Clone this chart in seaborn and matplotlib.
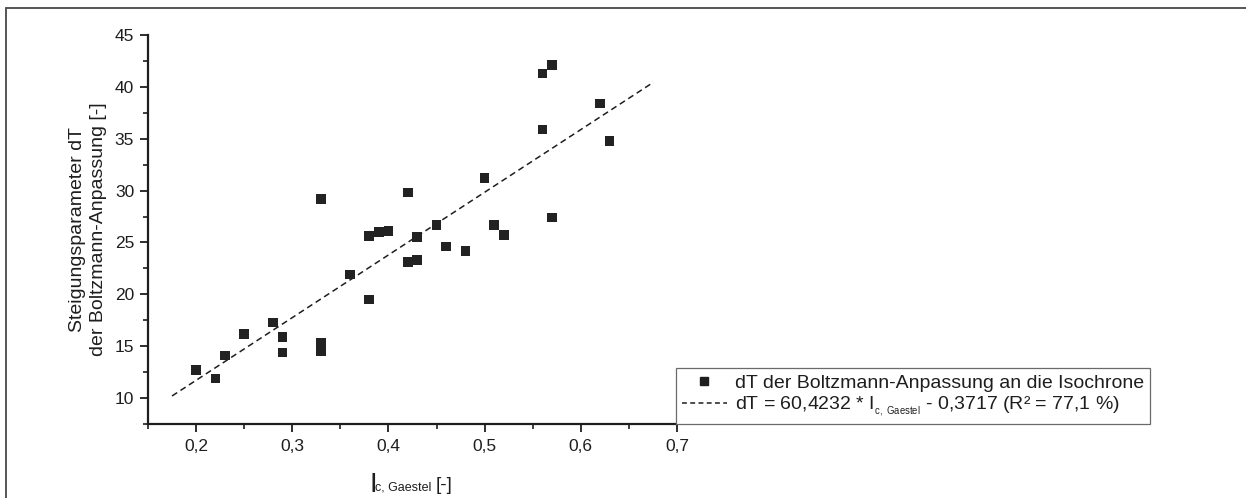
import matplotlib
matplotlib.use("Agg")
import matplotlib.pyplot as plt
import seaborn as sns
from matplotlib.lines import Line2D
from matplotlib.ticker import FixedLocator, MultipleLocator

# Consistency index I_c (Gaestel) and slope parameter dT of the Boltzmann fit
ic_gaestel = [0.20, 0.22, 0.23, 0.25, 0.28, 0.29, 0.29, 0.33, 0.33, 0.33,
              0.36, 0.38, 0.38, 0.39, 0.40, 0.42, 0.42, 0.43, 0.43, 0.45,
              0.46, 0.48, 0.50, 0.51, 0.52, 0.56, 0.56, 0.57, 0.57, 0.62, 0.63]
dT_values = [12.7, 11.9, 14.1, 16.2, 17.3, 15.9, 14.4, 29.2, 15.3, 14.5,
             21.9, 25.6, 19.5, 26.0, 26.1, 29.8, 23.1, 25.5, 23.3, 26.7,
             24.6, 24.2, 31.2, 26.7, 25.7, 41.3, 35.9, 42.1, 27.4, 38.4, 34.8]

# Linear regression dT = slope * I_c + intercept
fit_slope = 60.4232
fit_intercept = -0.3717
fit_x = [0.175, 0.675]
fit_y = [fit_slope * v + fit_intercept for v in fit_x]

x_ticks = [0.2, 0.3, 0.4, 0.5, 0.6, 0.7]
x_tick_labels = ["0,2", "0,3", "0,4", "0,5", "0,6", "0,7"]
y_ticks = [10, 15, 20, 25, 30, 35, 40, 45]
y_tick_labels = ["10", "15", "20", "25", "30", "35", "40", "45"]

legend_labels = [
    "dT der Boltzmann-Anpassung an die Isochrone",
    r"dT = 60,4232 * I$_{_{\mathregular{c,\ Gaestel}}}$ - 0,3717 (R² = 77,1 %)",
]

sns.set_style("ticks")
plt.rcParams["font.family"] = ["Liberation Sans", "DejaVu Sans"]
plt.rcParams["mathtext.fontset"] = "custom"
plt.rcParams["mathtext.rm"] = "Liberation Sans"
plt.rcParams["mathtext.it"] = "Liberation Sans:italic"
plt.rcParams["mathtext.bf"] = "Liberation Sans:bold"

INK = "#1e1e1e"
W, H = 1246, 498

fig = plt.figure(figsize=(W / 100, H / 100), dpi=100)
fig.patch.set_facecolor("white")
ax = fig.add_axes([148 / W, 1 - 424 / H, (677 - 148) / W, (424 - 35) / H])

sns.lineplot(x=fit_x, y=fit_y, ax=ax, color=INK, linewidth=1.1,
             linestyle=(0, (4, 2.6)), legend=False)
sns.scatterplot(x=ic_gaestel, y=dT_values, ax=ax, marker="s", s=48,
                color="#222222", edgecolor="none", legend=False, zorder=3)

ax.set_xlim(0.15, 0.7)
ax.set_ylim(7.5, 45)
ax.xaxis.set_major_locator(FixedLocator(x_ticks))
ax.set_xticklabels(x_tick_labels)
ax.xaxis.set_minor_locator(MultipleLocator(0.05))
ax.yaxis.set_major_locator(FixedLocator(y_ticks))
ax.set_yticklabels(y_tick_labels)
ax.yaxis.set_minor_locator(MultipleLocator(2.5))

sns.despine(ax=ax)
for side in ("left", "bottom"):
    ax.spines[side].set_linewidth(1.6)
    ax.spines[side].set_color(INK)
ax.tick_params(which="major", direction="out", length=6, width=1.3,
               color=INK, labelcolor=INK, labelsize=12.5)
ax.tick_params(axis="x", which="major", pad=5)
ax.tick_params(axis="y", which="major", pad=4)
ax.tick_params(which="minor", direction="out", length=3.5, width=1.2, color=INK)

ax.set_xlabel("")
ax.set_ylabel("Steigungsparameter dT\nder Boltzmann-Anpassung [-]",
              fontsize=14, color=INK, linespacing=1.25, va="center")
ax.yaxis.set_label_coords((88 - 148) / (677 - 148), 0.5)

# x-axis label assembled from a tall symbol, a small subscript and the unit
fig.text(369 / W, 1 - 492 / H, "I", fontsize=20, color=INK, va="baseline")
fig.text(375 / W, 1 - 490 / H, "c, Gaestel", fontsize=9, color=INK, va="baseline")
fig.text(436 / W, 1 - 490 / H, "[-]", fontsize=13.5, color=INK, va="baseline")

handles = [
    Line2D([], [], marker="s", linestyle="none", color=INK, markersize=6),
    Line2D([], [], color=INK, linewidth=1.1, linestyle=(0, (3.2, 2.2))),
]
leg = ax.legend(handles, legend_labels, loc="lower left",
                bbox_to_anchor=(676 / W, 1 - 424 / H), bbox_transform=fig.transFigure,
                borderaxespad=0, fontsize=14, frameon=True, fancybox=False,
                framealpha=1, edgecolor="#6a6a6a", handlelength=2.3,
                handletextpad=0.45, borderpad=0.3, labelspacing=0.15)
leg.get_frame().set_linewidth(0.9)
for t in leg.get_texts():
    t.set_color(INK)

# outer frame lines along the top and left edge
fig.add_artist(Line2D([6 / W, 6 / W], [0, 1 - 8 / H], transform=fig.transFigure,
                      color="#555555", linewidth=1.4))
fig.add_artist(Line2D([6 / W, 1], [1 - 8 / H, 1 - 8 / H], transform=fig.transFigure,
                      color="#555555", linewidth=1.4))

fig.savefig("out.png", dpi=100, facecolor="white")
